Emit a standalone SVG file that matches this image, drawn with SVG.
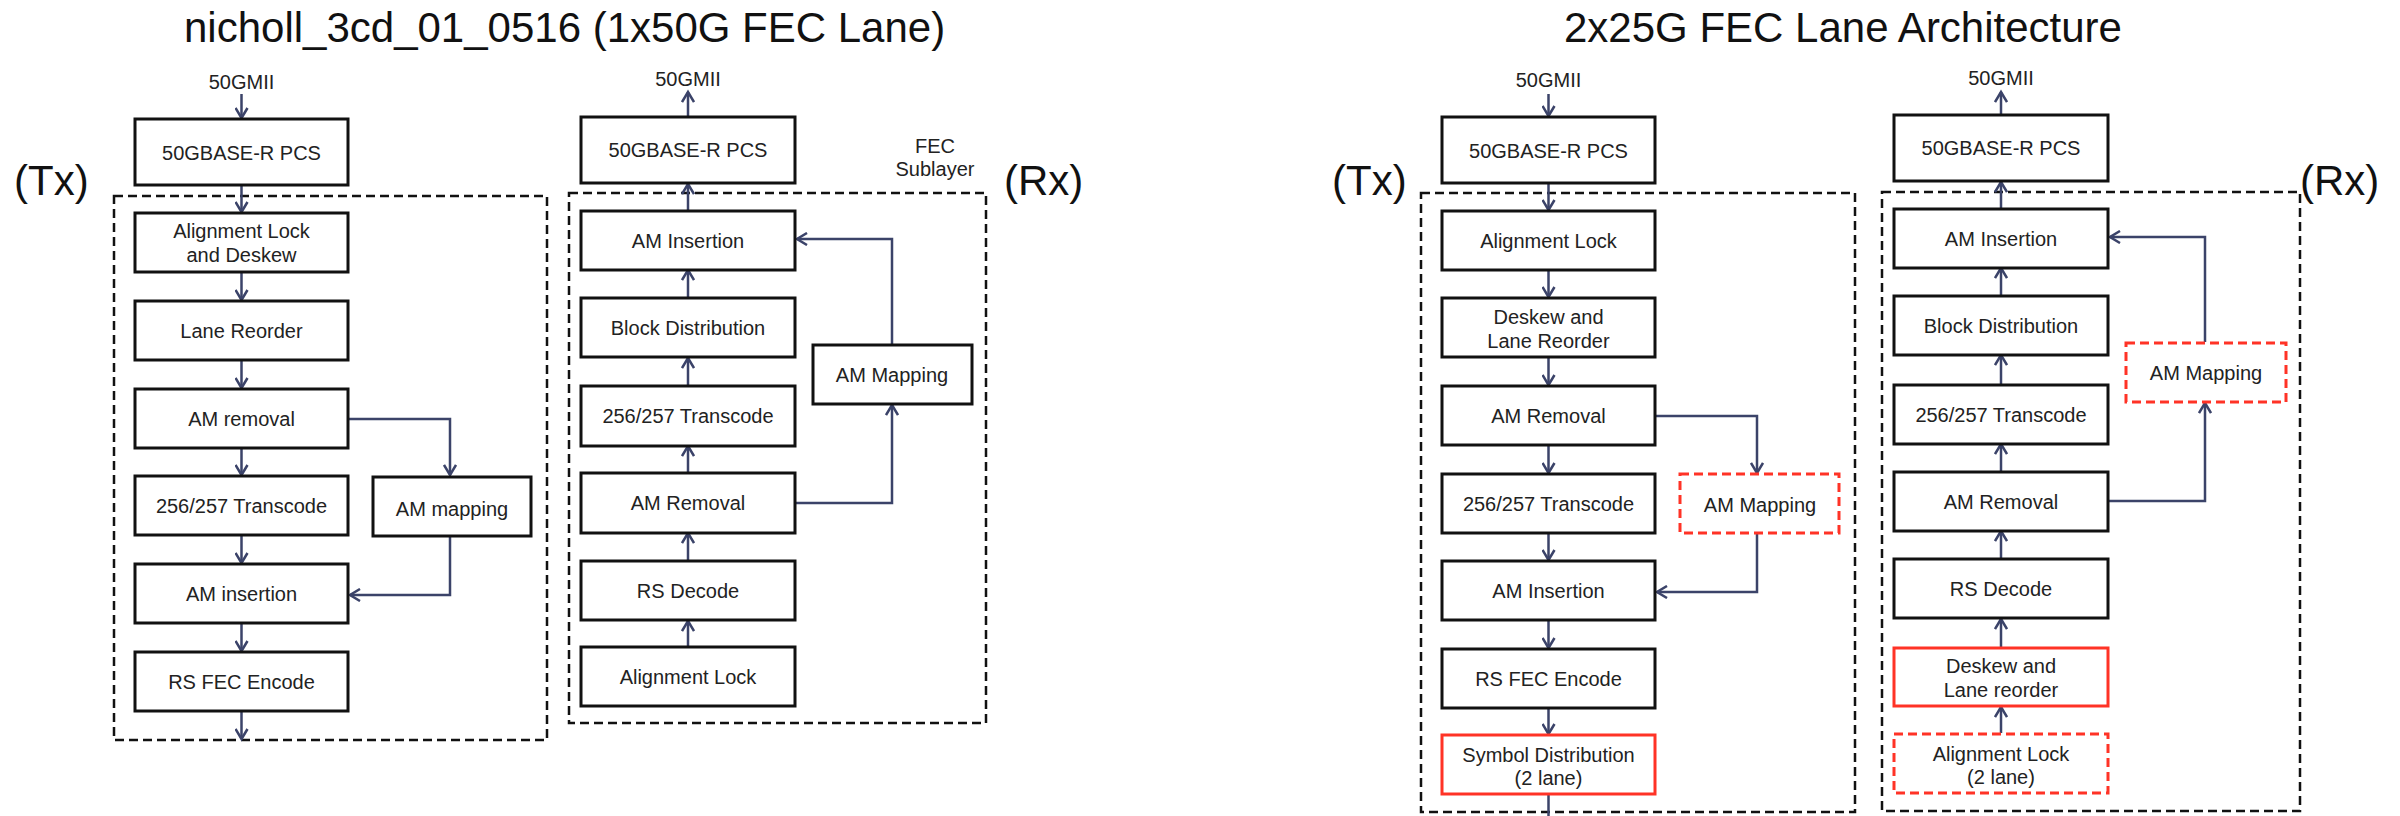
<svg xmlns="http://www.w3.org/2000/svg" width="2400" height="816" viewBox="0 0 2400 816">
<defs>
<style>
.bg{fill:#fff}
.box{fill:#fff;stroke:#111;stroke-width:3}
.rbox{fill:#fff;stroke:#ff3326;stroke-width:3}
.rdbox{fill:#fff;stroke:#ff3326;stroke-width:3;stroke-dasharray:9 5}
.cont{fill:none;stroke:#111;stroke-width:2.5;stroke-dasharray:9 5}
.t{font-family:"Liberation Sans",Arial,sans-serif;font-size:20px;fill:#222;text-anchor:middle}
.title{font-family:"Liberation Sans",Arial,sans-serif;font-size:42px;fill:#111}
.big{font-family:"Liberation Sans",Arial,sans-serif;font-size:42px;fill:#111}
.c path{fill:none;stroke:#3b4369;stroke-width:2.5;marker-end:url(#ah)}
.c path.na{marker-end:none}
</style>
<marker id="ah" markerWidth="14" markerHeight="14" refX="11" refY="7" orient="auto" markerUnits="userSpaceOnUse">
<path d="M1,1 L11,7 L1,13" fill="none" stroke="#3b4369" stroke-width="2.5"/>
</marker>
</defs>
<rect class="bg" x="0" y="0" width="2400" height="816"/>

<text class="title" x="184" y="42">nicholl_3cd_01_0516 (1x50G FEC Lane)</text>
<text class="title" x="1564" y="42">2x25G FEC Lane Architecture</text>

<g id="containers">
<rect class="cont" x="114" y="196" width="433" height="544"/>
<rect class="cont" x="569" y="193" width="417" height="530"/>
<rect class="cont" x="1421" y="193" width="434" height="619"/>
<rect class="cont" x="1882" y="192" width="418" height="619"/>
</g>

<g id="labels">
<text class="big" x="14" y="195">(Tx)</text>
<text class="big" x="1004" y="195">(Rx)</text>
<text class="big" x="1332" y="195">(Tx)</text>
<text class="big" x="2300" y="195">(Rx)</text>
<text class="t" x="241.5" y="89">50GMII</text>
<text class="t" x="688" y="86">50GMII</text>
<text class="t" x="1548.5" y="87">50GMII</text>
<text class="t" x="2001" y="85">50GMII</text>
<text class="t" x="935" y="153">FEC</text>
<text class="t" x="935" y="176">Sublayer</text>
</g>

<g id="connectors" class="c">
<!-- left Tx -->
<path d="M241.5,94 V118"/>
<path d="M241.5,185 V212"/>
<path d="M241.5,272 V300"/>
<path d="M241.5,360 V388"/>
<path d="M241.5,448 V475"/>
<path d="M241.5,535 V563"/>
<path d="M241.5,623 V651"/>
<path d="M241.5,711 V739"/>
<path d="M348,419 H450 V475"/>
<path d="M450,536 V595 H350"/>
<!-- left Rx -->
<path d="M688,117 V92"/>
<path d="M688,211 V184"/>
<path d="M688,298 V270"/>
<path d="M688,386 V358"/>
<path d="M688,473 V446"/>
<path d="M688,561 V533"/>
<path d="M688,647 V621"/>
<path d="M795,503 H892 V405"/>
<path d="M892,345 V239 H797"/>
<!-- right Tx -->
<path d="M1548.5,94 V116"/>
<path d="M1548.5,183 V210"/>
<path d="M1548.5,270 V297"/>
<path d="M1548.5,357 V385"/>
<path d="M1548.5,445 V473"/>
<path d="M1548.5,533 V560"/>
<path d="M1548.5,620 V648"/>
<path d="M1548.5,708 V734"/>
<path class="na" d="M1548.5,794 V816"/>
<path d="M1655,416 H1757 V473"/>
<path d="M1757,533 V592 H1657"/>
<!-- right Rx -->
<path d="M2001,115 V92"/>
<path d="M2001,209 V182"/>
<path d="M2001,297 V268"/>
<path d="M2001,386 V355"/>
<path d="M2001,472 V444"/>
<path d="M2001,559 V531"/>
<path d="M2001,648 V619"/>
<path d="M2001,733 V707"/>
<path d="M2108,501 H2205 V403"/>
<path d="M2205,342 V237 H2110"/>
</g>

<!-- Left Tx nodes -->
<g id="ltx-pcs"><rect class="box" x="135" y="119" width="213" height="66"/><text class="t" x="241.5" y="160">50GBASE-R PCS</text></g>
<g id="ltx-ald"><rect class="box" x="135" y="213" width="213" height="59"/><text class="t" x="241.5" y="238">Alignment Lock</text><text class="t" x="241.5" y="262">and Deskew</text></g>
<g id="ltx-lr"><rect class="box" x="135" y="301" width="213" height="59"/><text class="t" x="241.5" y="338">Lane Reorder</text></g>
<g id="ltx-amrem"><rect class="box" x="135" y="389" width="213" height="59"/><text class="t" x="241.5" y="426">AM removal</text></g>
<g id="ltx-tc"><rect class="box" x="135" y="476" width="213" height="59"/><text class="t" x="241.5" y="513">256/257 Transcode</text></g>
<g id="ltx-amins"><rect class="box" x="135" y="564" width="213" height="59"/><text class="t" x="241.5" y="601">AM insertion</text></g>
<g id="ltx-rs"><rect class="box" x="135" y="652" width="213" height="59"/><text class="t" x="241.5" y="689">RS FEC Encode</text></g>
<g id="ltx-ammap"><rect class="box" x="373" y="477" width="158" height="59"/><text class="t" x="452" y="516">AM mapping</text></g>

<!-- Left Rx nodes -->
<g id="lrx-pcs"><rect class="box" x="581" y="117" width="214" height="66"/><text class="t" x="688" y="157">50GBASE-R PCS</text></g>
<g id="lrx-amins"><rect class="box" x="581" y="211" width="214" height="59"/><text class="t" x="688" y="248">AM Insertion</text></g>
<g id="lrx-bd"><rect class="box" x="581" y="298" width="214" height="59"/><text class="t" x="688" y="335">Block Distribution</text></g>
<g id="lrx-tc"><rect class="box" x="581" y="386" width="214" height="60"/><text class="t" x="688" y="423">256/257 Transcode</text></g>
<g id="lrx-amrem"><rect class="box" x="581" y="473" width="214" height="60"/><text class="t" x="688" y="510">AM Removal</text></g>
<g id="lrx-rsd"><rect class="box" x="581" y="561" width="214" height="59"/><text class="t" x="688" y="598">RS Decode</text></g>
<g id="lrx-al"><rect class="box" x="581" y="647" width="214" height="59"/><text class="t" x="688" y="684">Alignment Lock</text></g>
<g id="lrx-ammap"><rect class="box" x="813" y="345" width="159" height="59"/><text class="t" x="892" y="382">AM Mapping</text></g>

<!-- Right Tx nodes -->
<g id="rtx-pcs"><rect class="box" x="1442" y="117" width="213" height="66"/><text class="t" x="1548.5" y="158">50GBASE-R PCS</text></g>
<g id="rtx-al"><rect class="box" x="1442" y="211" width="213" height="59"/><text class="t" x="1548.5" y="248">Alignment Lock</text></g>
<g id="rtx-dlr"><rect class="box" x="1442" y="298" width="213" height="59"/><text class="t" x="1548.5" y="324">Deskew and</text><text class="t" x="1548.5" y="348">Lane Reorder</text></g>
<g id="rtx-amrem"><rect class="box" x="1442" y="386" width="213" height="59"/><text class="t" x="1548.5" y="423">AM Removal</text></g>
<g id="rtx-tc"><rect class="box" x="1442" y="474" width="213" height="59"/><text class="t" x="1548.5" y="511">256/257 Transcode</text></g>
<g id="rtx-amins"><rect class="box" x="1442" y="561" width="213" height="59"/><text class="t" x="1548.5" y="598">AM Insertion</text></g>
<g id="rtx-rs"><rect class="box" x="1442" y="649" width="213" height="59"/><text class="t" x="1548.5" y="686">RS FEC Encode</text></g>
<g id="rtx-sd"><rect class="rbox" x="1442" y="735" width="213" height="59"/><text class="t" x="1548.5" y="762">Symbol Distribution</text><text class="t" x="1548.5" y="785">(2 lane)</text></g>
<g id="rtx-ammap"><rect class="rdbox" x="1680" y="474" width="159" height="59"/><text class="t" x="1760" y="512">AM Mapping</text></g>

<!-- Right Rx nodes -->
<g id="rrx-pcs"><rect class="box" x="1894" y="115" width="214" height="66"/><text class="t" x="2001" y="155">50GBASE-R PCS</text></g>
<g id="rrx-amins"><rect class="box" x="1894" y="209" width="214" height="59"/><text class="t" x="2001" y="246">AM Insertion</text></g>
<g id="rrx-bd"><rect class="box" x="1894" y="296" width="214" height="59"/><text class="t" x="2001" y="333">Block Distribution</text></g>
<g id="rrx-tc"><rect class="box" x="1894" y="385" width="214" height="59"/><text class="t" x="2001" y="422">256/257 Transcode</text></g>
<g id="rrx-amrem"><rect class="box" x="1894" y="472" width="214" height="59"/><text class="t" x="2001" y="509">AM Removal</text></g>
<g id="rrx-rsd"><rect class="box" x="1894" y="559" width="214" height="59"/><text class="t" x="2001" y="596">RS Decode</text></g>
<g id="rrx-dlr"><rect class="rbox" x="1894" y="648" width="214" height="58"/><text class="t" x="2001" y="673">Deskew and</text><text class="t" x="2001" y="697">Lane reorder</text></g>
<g id="rrx-al"><rect class="rdbox" x="1894" y="734" width="214" height="59"/><text class="t" x="2001" y="761">Alignment Lock</text><text class="t" x="2001" y="784">(2 lane)</text></g>
<g id="rrx-ammap"><rect class="rdbox" x="2126" y="343" width="160" height="59"/><text class="t" x="2206" y="380">AM Mapping</text></g>
</svg>
